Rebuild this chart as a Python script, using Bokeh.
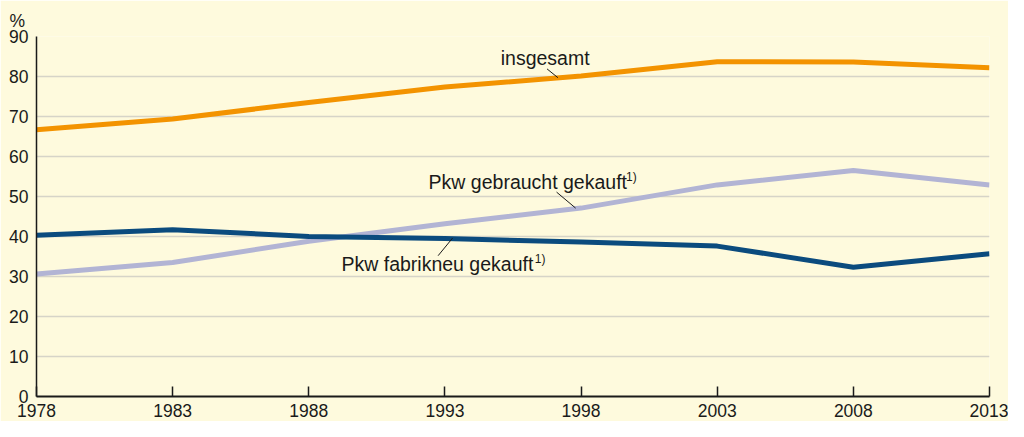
from bokeh.plotting import figure
from bokeh.models import Range1d, FixedTicker, Label
from bokeh.embed import file_html
from bokeh.resources import INLINE

years = [1978, 1983, 1988, 1993, 1998, 2003, 2008, 2013]
insgesamt = [66.7, 69.4, 73.5, 77.4, 80.1, 83.7, 83.6, 82.2]
gebraucht = [30.6, 33.5, 38.8, 43.2, 47.1, 52.9, 56.5, 52.9]
fabrikneu = [40.3, 41.7, 40.0, 39.5, 38.6, 37.6, 32.3, 35.7]
y_ticks = [0, 10, 20, 30, 40, 50, 60, 70, 80, 90]

BG = "#FEFADD"
GRID = "#D6D4C8"
TXT = "#1a1a1a"
FONT = "Liberation Sans"

p = figure(width=1008, height=421, output_backend="svg", toolbar_location=None,
           x_range=Range1d(1978, 2013), y_range=Range1d(0, 90),
           min_border_left=36, min_border_right=19, min_border_top=36, min_border_bottom=25)
p.background_fill_color = BG
p.border_fill_color = BG
p.outline_line_color = None

p.title.text = "%"
p.title.align = "left"
p.title.offset = -27
p.title.standoff = 11
p.title.text_font = FONT
p.title.text_font_size = "17.5px"
p.title.text_font_style = "normal"
p.title.text_color = TXT

p.xgrid.grid_line_color = None
p.ygrid.grid_line_color = GRID
p.ygrid.grid_line_width = 1.5
p.ygrid.ticker = FixedTicker(ticks=y_ticks[1:])

p.xaxis.ticker = FixedTicker(ticks=years)
p.xaxis.major_tick_in = 10
p.xaxis.major_tick_out = 0
p.xaxis.minor_tick_line_color = None
p.xaxis.axis_line_width = 2
p.xaxis.major_tick_line_width = 1.5
p.xaxis.axis_line_color = TXT
p.xaxis.major_tick_line_color = TXT
p.xaxis.major_label_standoff = 7

p.yaxis.ticker = FixedTicker(ticks=y_ticks)
p.yaxis.major_tick_in = 0
p.yaxis.major_tick_out = 0
p.yaxis.minor_tick_line_color = None
p.yaxis.axis_line_color = TXT
p.yaxis.axis_line_width = 1.5
p.yaxis.major_label_standoff = 8

for ax in (p.xaxis, p.yaxis):
    ax.major_label_text_font = FONT
    ax.major_label_text_font_size = "17.5px"
    ax.major_label_text_color = TXT

# series
p.line(years, gebraucht, line_color="#B2B4D4", line_width=5, line_join="round")
p.line(years, fabrikneu, line_color="#0B4B7E", line_width=5, line_join="round")
p.line(years, insgesamt, line_color="#F39300", line_width=5, line_join="round")

# leader lines (data units)
p.segment(x0=[1996.75, 1997.1, 1992.75], y0=[81.9, 51.1, 35.2],
          x1=[1997.15, 1997.8, 1993.28], y1=[79.7, 47.1, 39.6],
          line_color=TXT, line_width=1)

def lab(x, y, t, size="19.5px"):
    p.add_layout(Label(x=x, y=y, text=t, text_font=FONT, text_font_size=size,
                       text_color=TXT, text_baseline="alphabetic", text_align="left"))

lab(1995.05, 84.7, "insgesamt")
lab(1992.4, 53.7, "Pkw gebraucht gekauft")
lab(1999.65, 55.0, "1)", "12px")
lab(1989.2, 33.1, "Pkw fabrikneu gekauft")
lab(1996.3, 34.3, "1)", "12px")

open("out.html", "w").write(file_html(p, INLINE))
